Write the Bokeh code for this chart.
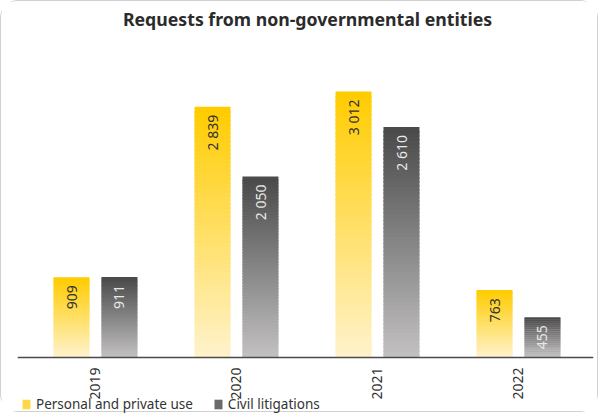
import math
from bokeh.plotting import figure
from bokeh.models import (ColumnDataSource, Range1d, FixedTicker, Legend, LegendItem,
                          LinearAxis, Label)
from bokeh.core.properties import value
from bokeh.embed import file_html
from bokeh.resources import INLINE

# ---- data ----
years = ["2019", "2020", "2021", "2022"]
personal = [909, 2839, 3012, 763]
civil = [911, 2050, 2610, 455]
series_names = ["Personal and private use", "Civil litigations"]
title_text = "Requests from non-governmental entities"

FONT = "Noto Sans"
YEL_TOP, YEL_BOT = (255, 204, 0), (255, 243, 207)
GRY_TOP, GRY_BOT = (74, 74, 74), (196, 194, 194)


def lerp(c1, c2, t):
    return "#%02x%02x%02x" % tuple(int(round(a + (b - a) * t)) for a, b in zip(c1, c2))


def fmt(v):
    return "{:,}".format(v).replace(",", " ")


Y_END = 4031
p = figure(width=598, height=412, output_backend="svg", toolbar_location=None,
           x_range=Range1d(-0.053, 4.032), y_range=Range1d(-634, Y_END),
           min_border_left=16, min_border_right=6, min_border_top=0,
           min_border_bottom=0, y_axis_location=None, x_axis_location=None)
p.styles = {"border": "1px solid #d0d0d0", "border-radius": "18px", "box-sizing": "border-box"}
p.outline_line_color = None
p.xgrid.visible = False
p.ygrid.visible = False

# title (placed inside the chart area, above the bars)
p.add_layout(Label(x=2.004, y=Y_END * 0.952, text=title_text, text_align="center",
                   text_baseline="middle", text_font=FONT, text_font_size="17.7px",
                   text_font_style="bold", text_color="#2b2b2b"))

BAR_W = 0.255
OFFS = 0.17
N = 60

for vals, off, ctop, cbot in [(personal, -OFFS, YEL_TOP, YEL_BOT), (civil, OFFS, GRY_TOP, GRY_BOT)]:
    xs, bots, tops, cols = [], [], [], []
    for i, v in enumerate(vals):
        h = v / N
        for k in range(N):
            xs.append(i + 0.5 + off)
            bots.append(max(0.0, h * k - 0.6 * h))
            tops.append(h * (k + 1))
            cols.append(lerp(cbot, ctop, (k + 0.5) / N))
    src = ColumnDataSource(dict(x=xs, bottom=bots, top=tops, color=cols))
    p.vbar(x="x", bottom="bottom", top="top", width=BAR_W, source=src,
           fill_color="color", line_color=None)

# value labels
for vals, off, tcol in [(personal, -OFFS, "#333333"), (civil, OFFS, "#e8e8e8")]:
    src = ColumnDataSource(dict(x=[i + 0.5 + off for i in range(len(vals))],
                                y=vals, t=[fmt(v) for v in vals]))
    p.text(x="x", y="y", text="t", source=src, angle=math.pi / 2,
           text_align="right", text_baseline="middle", y_offset=8,
           text_font=value(FONT), text_font_size="14px", text_color=tcol)

# axis at y = 0
ax = LinearAxis(fixed_location=0)
ax.ticker = FixedTicker(ticks=[i + 0.5 for i in range(len(years))])
ax.major_label_overrides = {i + 0.5: y for i, y in enumerate(years)}
ax.major_label_orientation = math.pi / 2
ax.major_label_text_font = FONT
ax.major_label_text_font_size = "14px"
ax.major_label_text_color = "#333333"
ax.major_tick_line_color = None
ax.minor_tick_line_color = None
ax.axis_line_color = "#4a4a4a"
ax.axis_line_width = 1.5
ax.major_label_standoff = 4
p.add_layout(ax, "below")

# legend proxies (solid squares, off-screen)
lg1 = p.quad(left=[-10], right=[-9], bottom=[-10000], top=[-9999], fill_color="#ffd84a", line_color=None)
lg2 = p.quad(left=[-10], right=[-9], bottom=[-10000], top=[-9999], fill_color="#6a6a6a", line_color=None)
legend = Legend(items=[LegendItem(label=series_names[0], renderers=[lg1]),
                       LegendItem(label=series_names[1], renderers=[lg2])],
                orientation="horizontal", location=(4, 0))
legend.label_text_font = FONT
legend.label_text_font_size = "13.5px"
legend.label_text_color = "#333333"
legend.label_height = 12
legend.glyph_width = 10
legend.glyph_height = 12
legend.label_standoff = 5
legend.spacing = 20
legend.padding = 0
legend.margin = 0
legend.border_line_color = None
legend.background_fill_alpha = 0
p.add_layout(legend)

open("out.html", "w").write(file_html(p, INLINE))
